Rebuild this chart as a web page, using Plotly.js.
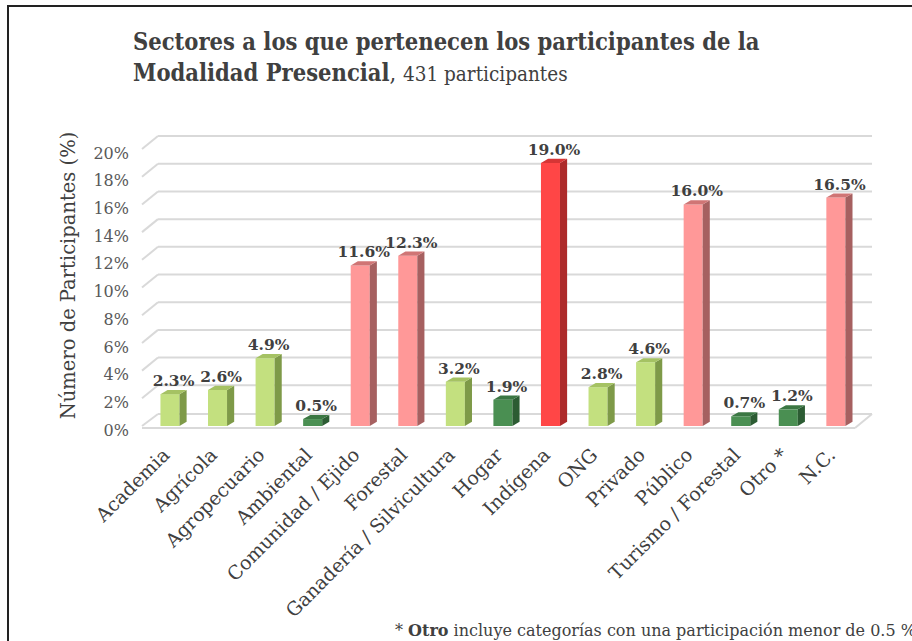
<!DOCTYPE html>
<html>
<head>
<meta charset="utf-8">
<script src="https://cdn.plot.ly/plotly-3.0.1.min.js"></script>
<style>
  html, body { margin: 0; padding: 0; background: #fff; overflow: hidden; }
  #frame { position: absolute; left: 7px; top: 5px; width: 1000px; height: 1000px; border: 2px solid #222; box-sizing: border-box; }
  #chart { position: absolute; left: 0; top: 0; width: 912px; height: 641px; }
</style>
</head>
<body>
<div id="frame"></div>
<div id="chart"></div>
<script>
// ---- data ----
const categories = ["Academia", "Agrícola", "Agropecuario", "Ambiental", "Comunidad / Ejido",
  "Forestal", "Ganadería / Silvicultura", "Hogar", "Indígena", "ONG", "Privado", "Público",
  "Turismo / Forestal", "Otro *", "N.C."];
const values = [2.3, 2.6, 4.9, 0.5, 11.6, 12.3, 3.2, 1.9, 19.0, 2.8, 4.6, 16.0, 0.7, 1.2, 16.5];
const groups = ["lg", "lg", "lg", "dg", "pk", "pk", "lg", "dg", "rd", "lg", "lg", "pk", "dg", "dg", "pk"];
const yTicks = [0, 2, 4, 6, 8, 10, 12, 14, 16, 18, 20];

// ---- styles ----
const palette = {
  lg: { front: "#c3e07f", side: "#7e9a48", top: "#a5c263" },
  dg: { front: "#4a8f52", side: "#2c5c33", top: "#3b7743" },
  pk: { front: "#ff9898", side: "#a66060", top: "#d07575" },
  rd: { front: "#ff4646", side: "#ad2a2a", top: "#d63535" }
};
const barW = 0.4;     // bar front width in category units
const dx = 0.15;      // depth offset x (category units)
const dy = 0.3;       // depth offset y (axis units)
const gridDy = 0.94;  // back-wall offset for gridlines (axis units)
const serif = "'DejaVu Serif', 'Liberation Serif', serif";
const serifC = "'DejaVu Serif Condensed', 'DejaVu Serif', serif";

const idx = categories.map((_, i) => i);
const traces = [];

// front faces
traces.push({
  type: "bar", x: idx, y: values, width: barW,
  marker: { color: groups.map(g => palette[g].front), line: { width: 0 } },
  hoverinfo: "skip", showlegend: false
});
// side & top faces
values.forEach((v, i) => {
  const c = palette[groups[i]];
  const r = i + barW / 2, l = i - barW / 2;
  traces.push({
    type: "scatter", mode: "lines", fill: "toself", fillcolor: c.side,
    x: [r, r + dx, r + dx, r, r], y: [0, dy, v + dy, v, 0],
    line: { width: 0, color: c.side }, hoverinfo: "skip", showlegend: false
  });
  traces.push({
    type: "scatter", mode: "lines", fill: "toself", fillcolor: c.top,
    x: [l, r, r + dx, l + dx, l], y: [v, v, v + dy, v + dy, v],
    line: { width: 0, color: c.top }, hoverinfo: "skip", showlegend: false
  });
});
// value labels
traces.push({
  type: "scatter", mode: "text", x: idx.map(i => i + dx / 2), y: values.map(v => v + dy),
  text: values.map(v => "<b>" + v.toFixed(1) + "%</b>"),
  textposition: "top center",
  textfont: { family: serif, size: 15.5, color: "#404040" },
  hoverinfo: "skip", showlegend: false, cliponaxis: false
});

// gridlines on back wall + perspective diagonals
const plotL = 140, plotR = 872, plotW = plotR - plotL;
const px = p => (p - plotL) / plotW;
const shapes = [];
yTicks.forEach(t => {
  const yb = t + (t === 0 ? 0.87 : gridDy);
  shapes.push({ type: "line", layer: "below", xref: "paper", yref: "y",
    x0: px(158), x1: px(872), y0: yb, y1: yb, line: { color: "#d9d9d9", width: 2 } });
  shapes.push({ type: "line", layer: "below", xref: "paper", yref: "y",
    x0: px(142), x1: px(158), y0: t, y1: yb, line: { color: "#d9d9d9", width: 2 } });
});
shapes.push({ type: "line", layer: "below", xref: "paper", yref: "y",
  x0: px(142), x1: px(855), y0: -0.15, y1: -0.15, line: { color: "#d9d9d9", width: 2 } });
shapes.push({ type: "line", layer: "below", xref: "paper", yref: "y",
  x0: px(855), x1: px(872), y0: -0.15, y1: 0.87, line: { color: "#d9d9d9", width: 2 } });

const layout = {
  width: 912, height: 641,
  paper_bgcolor: "rgba(0,0,0,0)", plot_bgcolor: "rgba(0,0,0,0)",
  margin: { l: plotL, r: 912 - plotR, t: 120, b: 210 },
  title: {
    text: "<b>Sectores a los que pertenecen los participantes de la<br>Modalidad Presencial</b>, <span style='font-size:20.5px'>431 participantes</span>",
    font: { family: serifC, size: 23.5, color: "#404040" },
    x: 133 / 912, xanchor: "left", xref: "container",
    y: 1 - 50 / 641, yanchor: "top", yref: "container"
  },
  xaxis: {
    range: [-0.63, 14.76], tickvals: idx, ticktext: categories,
    tickangle: -45, showgrid: false, zeroline: false, showline: false,
    ticks: "", ticklabelstandoff: 8, ticklabelshift: -6,
    tickfont: { family: serif, size: 19, color: "#404040" },
    fixedrange: true
  },
  yaxis: {
    range: [-0.362, 22.1], tickvals: yTicks, ticktext: yTicks.map(t => t + "%"),
    showgrid: false, zeroline: false, showline: false, ticks: "",
    ticklabelstandoff: 10, ticklabelshift: 4,
    tickfont: { family: serif, size: 16, color: "#595959" },
    title: { text: "Número de Participantes (%)", font: { family: serif, size: 19.5, color: "#404040" }, standoff: 12 },
    fixedrange: true
  },
  shapes: shapes,
  annotations: [{
    xref: "paper", yref: "paper", x: px(393), xanchor: "left",
    y: (431 - 630) / 311, yanchor: "middle", showarrow: false,
    text: "* <b>Otro</b> incluye categorías con una participación menor de 0.5 %",
    font: { family: serif, size: 16, color: "#404040" }
  }],
  showlegend: false
};

Plotly.newPlot("chart", traces, layout, { displayModeBar: false, staticPlot: true });
</script>
</body>
</html>
